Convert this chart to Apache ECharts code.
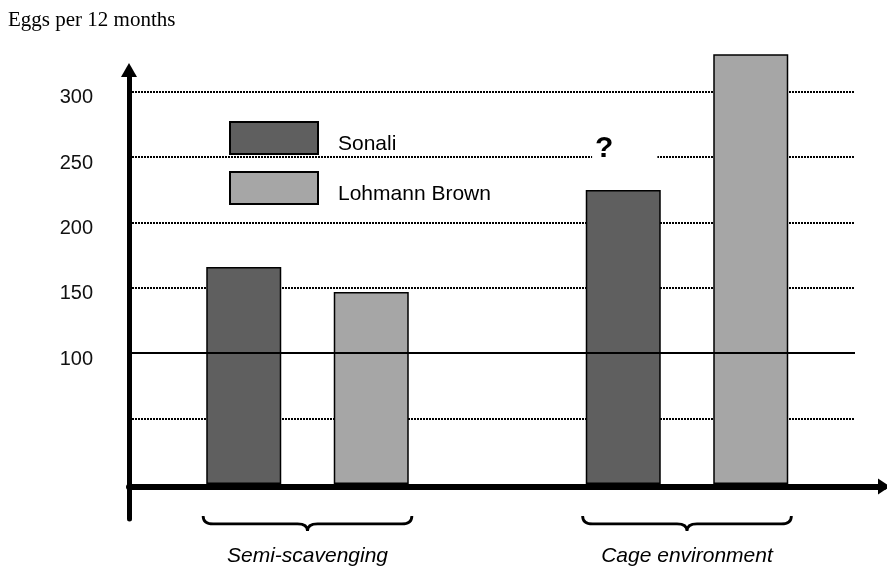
<!DOCTYPE html>
<html>
<head>
<meta charset="utf-8">
<script src="https://cdn.jsdelivr.net/npm/echarts@6/dist/echarts.min.js"></script>
<style>
  html, body { margin: 0; padding: 0; background: #fff; }
  #chart { width: 887px; height: 568px; }
</style>
</head>
<body>
<div id="chart"></div>
<script>
const categories = ['Semi-scavenging', 'Cage environment']
const sonali = [166, 225]
const lohmann = [147, 329]
const sonaliNotes = ['', '?']
const yLabels = [100, 150, 200, 250, 300]

const SANS = '"Liberation Sans", Arial, sans-serif'
const DARK = '#5f5f5f'
const LIGHT = '#a6a6a6'

const chart = echarts.init(document.getElementById('chart'))

// brace under each group, drawn from the category band
function renderBrace(params, api) {
  const p = api.coord([api.value(0), 0])
  const half = api.size([1, 0])[0] * 0.275
  const cx = p[0], y0 = p[1]
  const L = cx - half, R = cx + half
  const top = y0 + 32, flat = y0 + 40, tip = y0 + 47
  const path = `M${L},${top} Q${L},${flat} ${L + 10},${flat} L${cx - 10},${flat} Q${cx},${flat} ${cx},${tip} ` +
    `Q${cx},${flat} ${cx + 10},${flat} L${R - 10},${flat} Q${R},${flat} ${R},${top}`
  return {
    type: 'path',
    shape: { pathData: path },
    style: { fill: 'none', stroke: '#000', lineWidth: 2.8 },
  }
}

chart.setOption({
  animation: false,
  title: {
    text: 'Eggs per 12 months',
    left: 8,
    top: 10,
    padding: 0,
    textStyle: { fontFamily: '"Liberation Serif", "Times New Roman", serif', fontSize: 21, fontWeight: 'normal', color: '#000' },
  },
  legend: {
    data: ['Sonali', 'Lohmann Brown'],
    orient: 'vertical',
    left: 229,
    top: 121,
    padding: 0,
    icon: 'rect',
    itemWidth: 88,
    itemHeight: 32,
    itemGap: 16,
    formatter: name => '{a|' + name + '}',
    textStyle: {
      rich: {
        a: { fontFamily: SANS, fontSize: 21, color: '#000', lineHeight: 20, padding: [12, 0, 0, 15] },
      },
    },
  },
  grid: [
    // gridlines + y labels
    { left: 132, right: 32, top: 91.7, bottom: 84.1 },
    // bars
    { left: 117.75, right: 10.25, top: 26.8, bottom: 84.1 },
    // arrow axes
    { left: 129, right: 3, top: 70, bottom: 49 },
  ],
  xAxis: [
    { gridIndex: 0, type: 'value', show: false, min: 0, max: 1 },
    {
      gridIndex: 1,
      type: 'category',
      data: categories,
      axisLine: { show: false },
      axisTick: { show: false },
      axisLabel: { fontFamily: SANS, fontSize: 21, fontStyle: 'italic', color: '#000', margin: 62 },
    },
    {
      gridIndex: 2,
      type: 'value',
      min: 0,
      max: 1,
      z: 5,
      axisLine: { show: true, symbol: ['none', 'triangle'], symbolSize: [16, 12], lineStyle: { color: '#000', width: 6 } },
      axisTick: { show: false },
      axisLabel: { show: false },
      splitLine: { show: false },
    },
  ],
  yAxis: [
    {
      gridIndex: 0,
      type: 'value',
      min: 0,
      max: 300,
      interval: 50,
      axisLine: { show: false },
      axisTick: { show: false },
      axisLabel: {
        margin: 39,
        formatter: v => (yLabels.includes(v) ? '{a|' + v + '}' : ''),
        rich: {
          a: { fontFamily: SANS, fontSize: 20, color: '#111', lineHeight: 20, padding: [12, 0, 0, 0] },
        },
      },
      splitLine: { show: true, showMinLine: false, lineStyle: { color: '#000', width: 2, type: [2, 1] } },
    },
    { gridIndex: 1, type: 'value', min: 0, max: 350, show: false },
    {
      gridIndex: 2,
      type: 'value',
      min: -25,
      max: 320,
      z: 5,
      axisLine: { show: true, symbol: ['none', 'triangle'], symbolSize: [16, 14], lineStyle: { color: '#000', width: 5 } },
      axisTick: { show: false },
      axisLabel: { show: false },
      splitLine: { show: false },
    },
  ],
  series: [
    {
      type: 'line',
      xAxisIndex: 0,
      yAxisIndex: 0,
      data: [],
      markLine: {
        silent: true,
        symbol: 'none',
        label: { show: false },
        lineStyle: { color: '#000', width: 2, type: 'solid' },
        data: [{ yAxis: 100 }],
      },
    },
    {
      name: 'Sonali',
      type: 'bar',
      xAxisIndex: 1,
      yAxisIndex: 1,
      barWidth: 75,
      barGap: '70%',
      itemStyle: { color: DARK, borderColor: '#000', borderWidth: 1.5 },
      data: sonali.map((v, i) => sonaliNotes[i] ? {
        value: v,
        label: {
          show: true,
          position: 'top',
          distance: 24,
          offset: [1.5, 0],
          formatter: '{q|' + sonaliNotes[i] + '}',
          rich: {
            q: { fontFamily: SANS, fontSize: 30, fontWeight: 'bold', color: '#000', lineHeight: 34, backgroundColor: '#fff', padding: [0, 44, 0, 3] },
          },
        },
      } : v),
    },
    {
      name: 'Lohmann Brown',
      type: 'bar',
      xAxisIndex: 1,
      yAxisIndex: 1,
      barWidth: 75,
      itemStyle: { color: LIGHT, borderColor: '#000', borderWidth: 1.5 },
      data: lohmann,
    },
    {
      type: 'custom',
      xAxisIndex: 1,
      yAxisIndex: 1,
      clip: false,
      silent: true,
      renderItem: renderBrace,
      encode: { x: 0 },
      data: categories.map(c => [c]),
    },
  ],
})
</script>
</body>
</html>
